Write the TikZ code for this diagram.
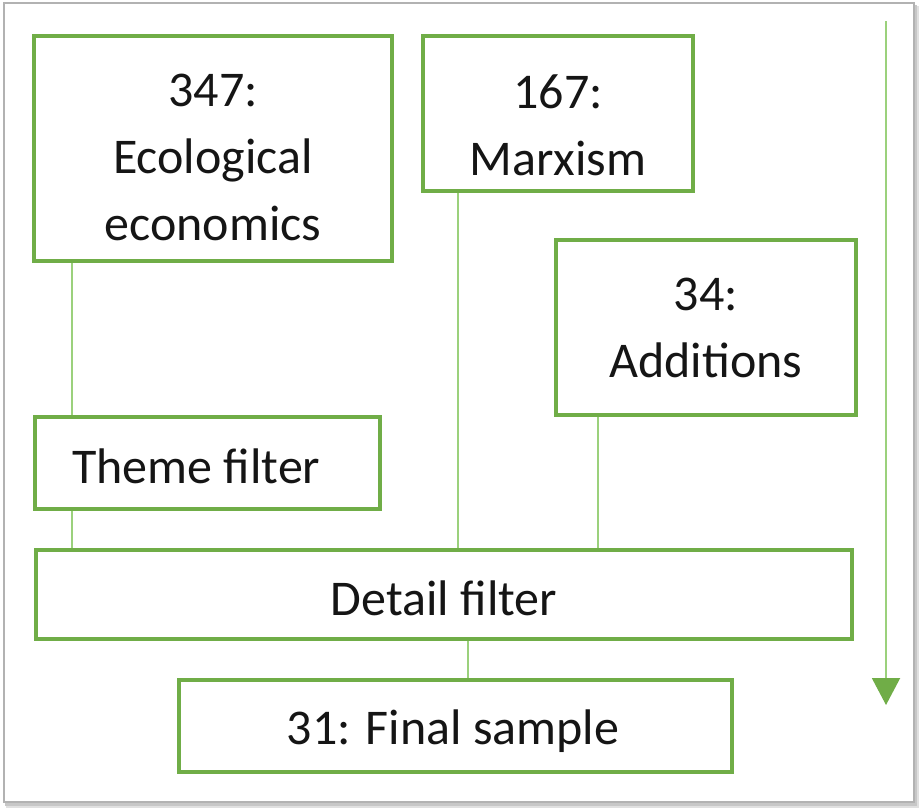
\documentclass[tikz,border=0pt]{standalone}
\usepackage{fontspec}
\setmainfont{Carlito}
\usetikzlibrary{arrows.meta}
\definecolor{boxgreen}{HTML}{70AD47}
\definecolor{linkgreen}{HTML}{9BD17C}
\definecolor{txt}{HTML}{151515}
\begin{document}
\begin{tikzpicture}[x=1pt,y=-1pt,
  box/.style={draw=boxgreen,line width=4pt,fill=white,rectangle,inner sep=0pt},
  label/.style={inner sep=0pt,align=center,text=txt,font=\fontsize{50}{67}\selectfont},
  link/.style={draw=linkgreen,line width=1.8pt}]
\useasboundingbox (0,0) rectangle (920,809);
% frame with shadow
\fill[black!12] (6,6) rectangle (919,808);
\fill[black!22] (5,5) rectangle (917,806);
\draw[black!30,line width=1.5pt,fill=white] (4,3) rectangle (914,802);
% boxes
\node[box,minimum width=358pt,minimum height=225pt] (eco) at (213,148.5) {};
\node[label] (ecotext) at (213,157) {347:\\Ecological\\economics};
\node[box,minimum width=270pt,minimum height=155pt] (marx) at (558,113.5) {};
\node[label] (marxtext) at (558,125) {167:\\Marxism};
\node[box,minimum width=300pt,minimum height=175pt] (add) at (706,327.5) {};
\node[label] (addtext) at (706,328) {34:\\Additions};
\node[box,minimum width=345pt,minimum height=92pt] (theme) at (207.5,463) {};
\node[label,anchor=west] (themetext) at (72,466) {Theme filter};
\node[box,minimum width=816pt,minimum height=89pt] (detail) at (444,594) {};
\node[label] (detailtext) at (444,598) {Detail filter};
\node[box,minimum width=553pt,minimum height=92pt] (final) at (455.5,726) {};
\node[label] (finaltext) at (453,731) {31: Final sample};
% connectors
\draw[link] (eco.south -| 72,0) -- (theme.north -| 72,0);
\draw[link] (theme.south -| 72,0) -- (detail.north -| 72,0);
\draw[link] (marx.south -| 458,0) -- (detail.north -| 458,0);
\draw[link] (add.south -| 598,0) -- (detail.north -| 598,0);
\draw[link] (detail.south -| 468,0) -- (final.north -| 468,0);
% time arrow
\coordinate (arrowtop) at (886,21);
\coordinate (arrowend) at (886,705);
\draw[draw=linkgreen,line width=2pt,-{Triangle[length=27pt,width=28pt,fill=boxgreen,color=boxgreen]}] (arrowtop) -- (arrowend);
\end{tikzpicture}
\end{document}
